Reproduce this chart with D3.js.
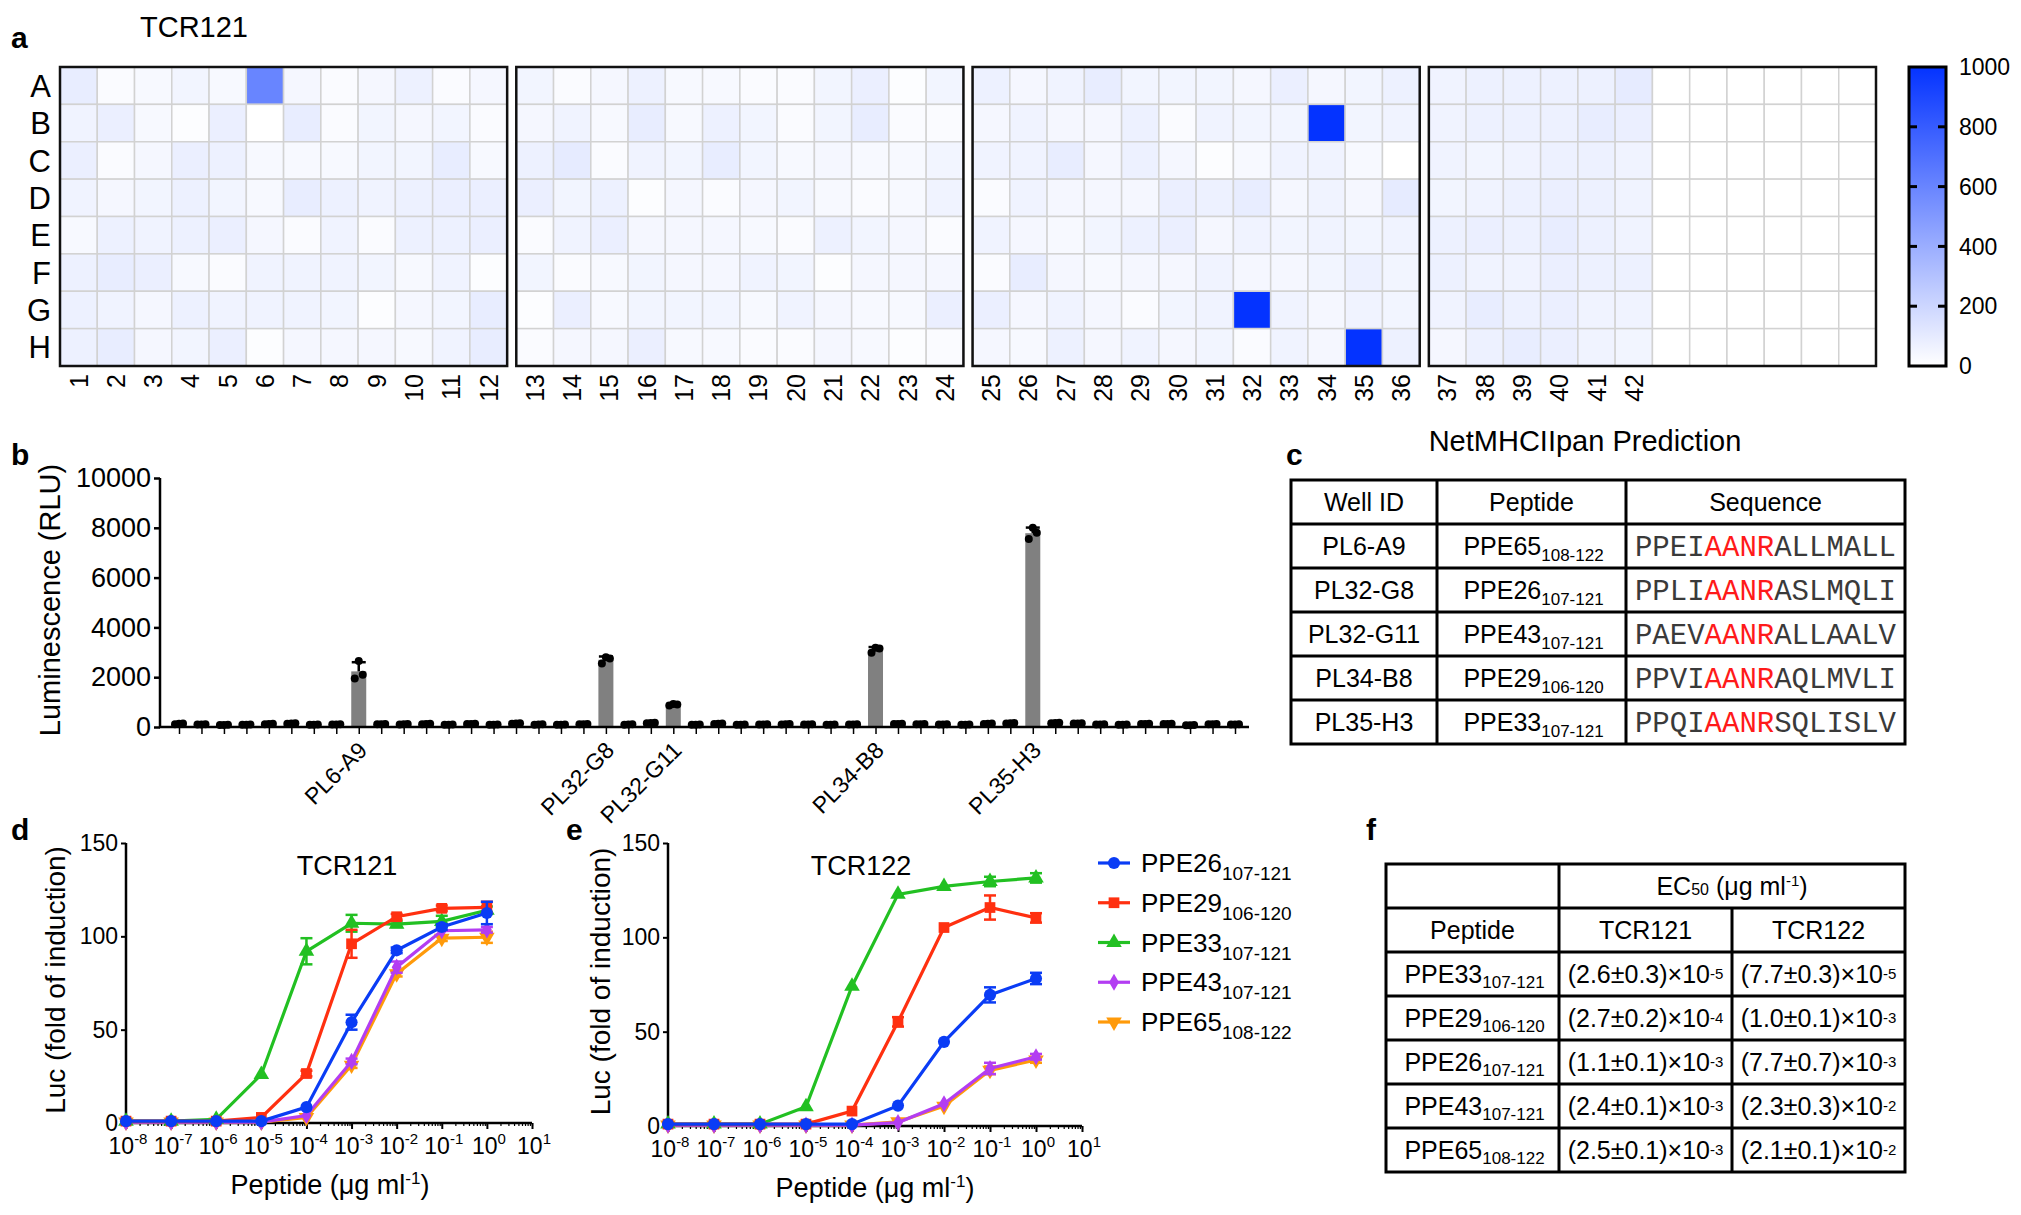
<!DOCTYPE html>
<html><head><meta charset="utf-8">
<script src="https://cdn.jsdelivr.net/npm/d3@7"></script>
<style>
body{margin:0;background:#fff;}
svg{display:block;}
</style></head><body>
<svg id="fig" width="2021" height="1215"></svg>
<script>
// ================= DATA =================
// Panel a: heatmap (rows A-H, plates/columns 1-42)
const rowLabels = ["A","B","C","D","E","F","G","H"];
const colLabels = ["1","2","3","4","5","6","7","8","9","10","11","12","13","14","15","16","17","18","19","20","21","22","23","24","25","26","27","28","29","30","31","32","33","34","35","36","37","38","39","40","41","42"];
const heatA = [90,20,30,50,30,600,40,20,40,70,20,40, 50,20,40,70,30,30,20,20,50,80,10,50, 70,40,60,90,50,50,50,40,80,40,50,70, 60,70,70,70,70,100];
const heatB = [60,80,30,10,80,0,90,20,50,40,50,20, 40,60,30,90,30,70,50,20,50,90,20,20, 40,60,40,40,70,20,60,50,50,1000,50,60, 60,70,70,70,90,80];
const heatC = [80,20,40,80,70,30,30,30,50,50,90,30, 70,100,20,60,50,90,50,30,40,30,30,50, 60,60,90,40,70,40,10,30,60,60,30,0, 60,50,60,70,70,60];
const heatD = [60,40,50,70,50,30,90,70,60,70,80,80, 80,50,70,10,40,20,40,50,30,20,30,60, 20,60,40,40,40,80,70,90,40,60,40,100, 50,60,70,80,70,60];
const heatE = [30,70,60,70,80,40,20,60,20,70,70,80, 20,60,80,40,40,40,30,20,70,50,40,20, 60,40,30,50,70,80,40,60,50,60,50,60, 70,80,70,90,70,60];
const heatF = [70,90,80,30,20,60,60,60,50,30,60,10, 50,20,30,50,40,40,60,50,10,40,40,40, 20,90,40,30,40,40,60,40,40,50,70,50, 70,60,60,80,70,70];
const heatG = [70,60,40,70,60,60,60,50,10,40,50,90, 10,80,30,50,50,50,30,60,40,30,30,80, 80,40,60,40,20,50,60,1000,60,40,60,50, 60,90,70,80,60,60];
const heatH = [70,90,40,50,80,10,40,40,40,30,60,90, 20,40,40,80,30,30,20,20,40,30,10,20, 40,30,70,40,60,40,50,20,60,40,1000,70, 40,70,90,80,60,50];
const colorbarTicks = [0,200,400,600,800,1000];

// Panel b: luminescence bars (48 wells, 3 replicates)
const barLabels = ["","","","","","","","","PL6-A9","","","","","","","","","","","PL32-G8","","","PL32-G11","","","","","","","","","PL34-B8","","","","","","","PL35-H3","","","","","","","","",""];
const barRep1 = [110,100,80,90,110,130,90,100,1950,110,100,110,90,120,90,130,90,90,110,2550,90,150,860,90,120,90,100,100,100,90,100,2980,120,110,100,90,120,140,7550,150,140,100,90,120,120,70,110,100];
const barRep2 = [140,110,90,100,130,150,100,110,2100,120,120,130,100,130,100,150,110,100,120,2750,110,170,900,100,140,100,110,120,110,100,110,3150,130,120,110,100,140,160,7800,170,150,110,100,130,130,80,120,110];
const barRep3 = [130,105,85,95,120,145,95,105,2650,115,110,120,95,125,95,140,100,95,115,2800,100,160,920,95,130,95,105,110,105,95,105,3180,125,115,105,95,130,150,8000,160,145,105,95,125,125,75,115,105];
const barTicks = [0,2000,4000,6000,8000,10000];

// Panels d, e: dose response
const conc = [1e-8,1e-7,1e-6,1e-5,1e-4,1e-3,1e-2,1e-1,1e0];
const xTickValues = [1e-8,1e-7,1e-6,1e-5,1e-4,1e-3,1e-2,1e-1,1e0,1e1];
const xTickExps = ["-8","-7","-6","-5","-4","-3","-2","-1","0","1"];
const yTicksLuc = [0,50,100,150];
const seriesNames = ["PPE26","PPE29","PPE33","PPE43","PPE65"];
const seriesSubs = ["107-121","106-120","107-121","107-121","108-122"];
// TCR121
const d26 = [1,1,1,1,8.5,54,92.5,105,112.5];      const d26e = [0.5,0.5,0.5,0.5,1,4,1.5,1.5,6];
const d29 = [1,1,1,3,26.5,96,110.5,115,115.5];    const d29e = [0.5,0.5,0.5,0.5,1.5,7.5,1.5,1.5,3];
const d33 = [1,1,2,26,92,107,106.5,108,114];      const d33e = [0.5,0.5,0.5,1,7,4.5,1.5,3,2];
const d43 = [0.5,0.5,0.5,0.5,4,33,83.5,103,103.5];const d43e = [0.3,0.3,0.3,0.3,1,1.5,3,1,1.5];
const d65 = [0.5,0.5,0.5,0.5,3,31,80,99,99.5];    const d65e = [0.3,0.3,0.3,0.3,1,1.5,1.5,1.5,3];
// TCR122
const e26 = [1,1,1,1,1,10.8,44.6,69.5,78.2];      const e26e = [0.5,0.5,0.5,0.5,0.5,1,1,4,3];
const e29 = [1,1,1,1,7.9,55.2,105.2,115.8,110.3]; const e29e = [0.5,0.5,0.5,0.5,1,2.5,1,6.4,2.5];
const e33 = [1,1,1,10.2,74.1,122.8,127,129.6,131.5]; const e33e = [0.5,0.5,0.5,0.5,1,1,1,2.5,2.5];
const e43 = [0.5,0.5,0.5,0.5,0.5,1.8,11.8,30.5,36.7]; const e43e = [0.3,0.3,0.3,0.3,0.3,1,1,3,1.5];
const e65 = [0.5,0.5,0.5,0.5,0.5,2.2,10.5,29.5,35];   const e65e = [0.3,0.3,0.3,0.3,0.3,1,1,2,1.5];

// Panel c table
const tcHeader = ["Well ID","Peptide","Sequence"];
const tcWells = ["PL6-A9","PL32-G8","PL32-G11","PL34-B8","PL35-H3"];
const tcPeptides = ["PPE65","PPE26","PPE43","PPE29","PPE33"];
const tcPeptideSubs = ["108-122","107-121","107-121","106-120","107-121"];
const tcSeqPre = ["PPEI","PPLI","PAEV","PPVI","PPQI"];
const tcSeqMotif = ["AANR","AANR","AANR","AANR","AANR"];
const tcSeqPost = ["ALLMALL","ASLMQLI","ALLAALV","AQLMVLI","SQLISLV"];

// Panel f table
const tfPeptides = ["PPE33","PPE29","PPE26","PPE43","PPE65"];
const tfPeptideSubs = ["107-121","106-120","107-121","107-121","108-122"];
const tf121 = ["(2.6±0.3)×10","(2.7±0.2)×10","(1.1±0.1)×10","(2.4±0.1)×10","(2.5±0.1)×10"];
const tf121Exp = ["-5","-4","-3","-3","-3"];
const tf122 = ["(7.7±0.3)×10","(1.0±0.1)×10","(7.7±0.7)×10","(2.3±0.3)×10","(2.1±0.1)×10"];
const tf122Exp = ["-5","-3","-3","-2","-2"];

// ================= DRAWING =================
const FONT = '"Liberation Sans", Arial, Helvetica, sans-serif';
const MONO = '"Liberation Mono", "Courier New", monospace';
const svg = d3.select("#fig").attr("font-family", FONT);
svg.append("rect").attr("width",2021).attr("height",1215).attr("fill","#fff");

function rich(g, x, y, parts, opts) {
  const t = g.append("text").attr("x", x).attr("y", y)
    .attr("text-anchor", opts.anchor || "middle").attr("font-size", opts.size)
    .attr("fill", opts.fill || "#000");
  if (opts.family) t.attr("font-family", opts.family);
  if (opts.transform) t.attr("transform", opts.transform);
  let shift = 0;
  parts.forEach(p => {
    const ts = t.append("tspan").text(p.t);
    const target = p.sub ? p.sub : (p.sup ? -p.sup : 0);
    const dy = target - shift;
    if (dy) ts.attr("dy", dy);
    shift = target;
    if (p.size) ts.attr("font-size", p.size);
    if (p.fill) ts.attr("fill", p.fill);
  });
  return t;
}
function panelLabel(txt, x, y) {
  svg.append("text").attr("x", x).attr("y", y).attr("font-size", 30)
    .attr("font-weight", "bold").text(txt);
}

// ---------- Panel a ----------
panelLabel("a", 11, 48);
svg.append("text").attr("x", 140).attr("y", 37).attr("font-size", 29).text("TCR121");
const heat = [heatA,heatB,heatC,heatD,heatE,heatF,heatG,heatH];
const blockScale = d3.scaleBand().domain([0,1,2,3]).range([60, 1876]).paddingInner(0.02);
const colInBlock = d3.scaleBand().domain(d3.range(12)).range([0, blockScale.bandwidth()]);
const rowScale = d3.scaleBand().domain(rowLabels).range([67, 366]);
const heatColor = d3.scaleLinear().domain([0,1000]).range(["#ffffff","#0433ff"]).clamp(true);
const cellX = c => blockScale(Math.floor(c / 12)) + colInBlock(c % 12);
const ga = svg.append("g");
rowLabels.forEach((r, ri) => {
  for (let c = 0; c < 48; c++) {
    const v = c < colLabels.length ? heat[ri][c] : null;
    ga.append("rect").attr("x", cellX(c)).attr("y", rowScale(r))
      .attr("width", colInBlock.bandwidth()).attr("height", rowScale.bandwidth())
      .attr("fill", v == null ? "#fff" : heatColor(v))
      .attr("stroke", "#d2d2d2").attr("stroke-width", 1.5);
  }
});
[0,1,2,3].forEach(b => {
  ga.append("rect").attr("x", blockScale(b)).attr("y", 67)
    .attr("width", blockScale.bandwidth()).attr("height", 299)
    .attr("fill", "none").attr("stroke", "#111").attr("stroke-width", 2.5);
});
rowLabels.forEach(r => {
  ga.append("text").attr("x", 51).attr("y", rowScale(r) + rowScale.bandwidth()/2)
    .attr("dy", "0.36em").attr("text-anchor", "end").attr("font-size", 31).text(r);
});
colLabels.forEach((lab, c) => {
  const cx = cellX(c) + colInBlock.bandwidth()/2;
  ga.append("text").attr("transform", `translate(${cx},374) rotate(-90)`)
    .attr("text-anchor", "end").attr("dy", "0.36em").attr("font-size", 25).text(lab);
});
// colorbar
const defs = svg.append("defs");
const grad = defs.append("linearGradient").attr("id", "cbgrad")
  .attr("x1", 0).attr("y1", 1).attr("x2", 0).attr("y2", 0);
grad.append("stop").attr("offset", "0%").attr("stop-color", heatColor(0));
grad.append("stop").attr("offset", "100%").attr("stop-color", heatColor(1000));
const cbY = d3.scaleLinear().domain([0,1000]).range([366, 67]);
const cbX0 = 1909, cbX1 = 1946;
ga.append("rect").attr("x", cbX0).attr("y", 67).attr("width", cbX1 - cbX0).attr("height", 299)
  .attr("fill", "url(#cbgrad)").attr("stroke", "#000").attr("stroke-width", 3);
colorbarTicks.forEach(t => {
  if (t > 0 && t < 1000) {
    ga.append("line").attr("x1", cbX0).attr("x2", cbX0 + 8).attr("y1", cbY(t)).attr("y2", cbY(t))
      .attr("stroke", "#000").attr("stroke-width", 3);
    ga.append("line").attr("x1", cbX1 - 8).attr("x2", cbX1).attr("y1", cbY(t)).attr("y2", cbY(t))
      .attr("stroke", "#000").attr("stroke-width", 3);
  }
  ga.append("text").attr("x", 1959).attr("y", cbY(t)).attr("dy", "0.36em")
    .attr("font-size", 23).text(t);
});

// ---------- Panel b ----------
panelLabel("b", 11, 465);
const gb = svg.append("g");
const bY = d3.scaleLinear().domain([0,10000]).range([727, 478]);
const bX = d3.scalePoint().domain(d3.range(barLabels.length)).range([179, 1235]);
const reps = barLabels.map((_, i) => [barRep1[i], barRep2[i], barRep3[i]]);
reps.forEach((r, i) => {
  const m = d3.mean(r), sd = d3.deviation(r);
  const cx = bX(i);
  gb.append("rect").attr("x", cx - 7.5).attr("y", bY(m)).attr("width", 15)
    .attr("height", bY(0) - bY(m)).attr("fill", "#808080");
  gb.append("line").attr("x1", cx).attr("x2", cx).attr("y1", bY(m)).attr("y2", bY(m + sd))
    .attr("stroke", "#000").attr("stroke-width", 2.5);
  gb.append("line").attr("x1", cx - 7).attr("x2", cx + 7).attr("y1", bY(m + sd)).attr("y2", bY(m + sd))
    .attr("stroke", "#000").attr("stroke-width", 2.5);
  [-4, 4, 0].forEach((off, k) => {
    gb.append("circle").attr("cx", cx + off).attr("cy", bY(r[k])).attr("r", 4).attr("fill", "#000");
  });
});
const bAxisY = gb.append("g").attr("transform", "translate(160,0)")
  .call(d3.axisLeft(bY).tickValues(barTicks).tickSize(6).tickPadding(3).tickFormat(d3.format("d")));
bAxisY.select(".domain").attr("stroke-width", 2.5).attr("d", "M0,478V727");
bAxisY.selectAll(".tick line").attr("stroke-width", 2.5);
bAxisY.selectAll("text").attr("font-size", 27).attr("font-family", FONT);
const bAxisX = gb.append("g").attr("transform", "translate(0,727)")
  .call(d3.axisBottom(bX).tickSize(7).tickFormat(""));
bAxisX.select(".domain").remove();
bAxisX.selectAll(".tick line").attr("stroke-width", 1.5);
gb.append("line").attr("x1", 159).attr("x2", 1249).attr("y1", 727).attr("y2", 727)
  .attr("stroke", "#000").attr("stroke-width", 2.5);
barLabels.forEach((lab, i) => {
  if (!lab) return;
  gb.append("text").attr("transform", `translate(${bX(i) + 4},746) rotate(-45)`)
    .attr("text-anchor", "end").attr("dy", "0.35em").attr("font-size", 23).text(lab);
});
gb.append("text").attr("transform", "translate(50,600) rotate(-90)").attr("text-anchor", "middle")
  .attr("dy", "0.36em").attr("font-size", 29).text("Luminescence (RLU)");

// ---------- Panels d, e ----------
const seriesColors = ["#0a3cf5","#ff3010","#22c022","#b33df2","#ff9a0a"];
const seriesSymbols = [d3.symbolCircle, d3.symbolSquare, d3.symbolTriangle, d3.symbolDiamond, d3.symbolTriangle];
const seriesSymSize = [115, 115, 105, 85, 105];
const seriesRot = [0,0,0,0,180];
const drawOrder = [4,3,2,1,0];
function marker(g, i, x, y) {
  g.append("path").attr("d", d3.symbol().type(seriesSymbols[i]).size(seriesSymSize[i])())
    .attr("transform", `translate(${x},${y}) rotate(${seriesRot[i]})`)
    .attr("fill", seriesColors[i]);
}
function doseChart(cfg) {
  const g = svg.append("g");
  const x = d3.scaleLog().domain([1e-8, 1e1]).range([cfg.x0, cfg.x1]);
  const y = d3.scaleLinear().domain([0, 150]).range([cfg.y0, cfg.y1]);
  const minor = g.append("g").attr("transform", `translate(0,${cfg.y0})`)
    .call(d3.axisBottom(x).tickValues(x.ticks(100)).tickSize(3).tickFormat(""));
  minor.select(".domain").remove();
  minor.selectAll(".tick line").attr("stroke-width", 1.2);
  const major = g.append("g").attr("transform", `translate(0,${cfg.y0})`)
    .call(d3.axisBottom(x).tickValues(xTickValues).tickSize(6).tickFormat(""));
  major.select(".domain").attr("stroke-width", 2.5).attr("d", `M${cfg.x0},0H${cfg.x1}`);
  major.selectAll(".tick line").attr("stroke-width", 2);
  xTickValues.forEach((v, k) => {
    rich(g, x(v) + 2, cfg.y0 + 31, [{t: "10"}, {t: xTickExps[k], sup: 10, size: 15}], {size: 23});
  });
  const ay = g.append("g").attr("transform", `translate(${cfg.x0},0)`)
    .call(d3.axisLeft(y).tickValues(yTicksLuc).tickSize(5).tickPadding(3));
  ay.select(".domain").attr("stroke-width", 2.5).attr("d", `M0,${cfg.y1}V${cfg.y0}`);
  ay.selectAll(".tick line").attr("stroke-width", 2);
  ay.selectAll("text").attr("font-size", 23).attr("font-family", FONT);
  g.append("text").attr("transform", `translate(${cfg.ytx},${(cfg.y0 + cfg.y1)/2 - 3}) rotate(-90)`)
    .attr("text-anchor", "middle").attr("dy", "0.36em").attr("font-size", 28).text("Luc (fold of induction)");
  rich(g, cfg.xtx, cfg.y0 + 71, [{t: "Peptide ("}, {t: "μ"}, {t: "g ml"}, {t: "-1", sup: 10, size: 17}, {t: ")"}], {size: 27});
  g.append("text").attr("x", cfg.tx).attr("y", cfg.y1 + 32).attr("text-anchor", "middle")
    .attr("font-size", 27).text(cfg.title);
  drawOrder.forEach(i => {
    const vals = cfg.vals[i], errs = cfg.errs[i];
    const line = d3.line().x((d, k) => x(conc[k])).y(d => y(d));
    g.append("path").attr("d", line(vals)).attr("fill", "none")
      .attr("stroke", seriesColors[i]).attr("stroke-width", 3.2);
    vals.forEach((v, k) => {
      const cx = x(conc[k]);
      const e = errs[k];
      if (e > 1.2) {
        g.append("line").attr("x1", cx).attr("x2", cx).attr("y1", y(v - e)).attr("y2", y(v + e))
          .attr("stroke", seriesColors[i]).attr("stroke-width", 2.5);
        [v - e, v + e].forEach(ev => g.append("line").attr("x1", cx - 6).attr("x2", cx + 6)
          .attr("y1", y(ev)).attr("y2", y(ev)).attr("stroke", seriesColors[i]).attr("stroke-width", 2.5));
      }
      marker(g, i, cx, y(v));
    });
  });
  return g;
}
panelLabel("d", 11, 840);
doseChart({x0: 126, x1: 532, y0: 1123, y1: 843, ytx: 55, xtx: 330, tx: 347, title: "TCR121",
  vals: [d26,d29,d33,d43,d65], errs: [d26e,d29e,d33e,d43e,d65e]});
panelLabel("e", 566, 840);
const ge = doseChart({x0: 668, x1: 1082, y0: 1126, y1: 843, ytx: 600, xtx: 875, tx: 861, title: "TCR122",
  vals: [e26,e29,e33,e43,e65], errs: [e26e,e29e,e33e,e43e,e65e]});
const legY = d3.scalePoint().domain(d3.range(seriesNames.length)).range([863, 1022]);
seriesNames.forEach((n, i) => {
  const yy = legY(i);
  ge.append("line").attr("x1", 1098).attr("x2", 1130).attr("y1", yy).attr("y2", yy)
    .attr("stroke", seriesColors[i]).attr("stroke-width", 3.2);
  marker(ge, i, 1114, yy);
  rich(ge, 1141, yy + 9, [{t: n}, {t: seriesSubs[i], sub: 8, size: 19}], {size: 26, anchor: "start"});
});

// ---------- Panel c ----------
panelLabel("c", 1286, 465);
const gc = svg.append("g");
gc.append("text").attr("x", 1585).attr("y", 451).attr("text-anchor", "middle").attr("font-size", 29)
  .text("NetMHCIIpan Prediction");
const tcX = [1291, 1437, 1626, 1905];
const tcY = d3.scaleBand().domain(d3.range(tcWells.length + 1)).range([480, 744]);
const tcRowC = r => tcY(r) + tcY.bandwidth()/2;
gc.append("rect").attr("x", tcX[0]).attr("y", 480).attr("width", tcX[3] - tcX[0]).attr("height", 264)
  .attr("fill", "none").attr("stroke", "#000").attr("stroke-width", 3);
tcX.slice(1, 3).forEach(xx => gc.append("line").attr("x1", xx).attr("x2", xx).attr("y1", 480).attr("y2", 744)
  .attr("stroke", "#000").attr("stroke-width", 3));
d3.range(1, tcWells.length + 1).forEach(r => gc.append("line").attr("x1", tcX[0]).attr("x2", tcX[3])
  .attr("y1", tcY(r)).attr("y2", tcY(r)).attr("stroke", "#000").attr("stroke-width", 3));
const tcColC = k => (tcX[k] + tcX[k + 1]) / 2;
tcHeader.forEach((h, k) => gc.append("text").attr("x", tcColC(k)).attr("y", tcRowC(0) + 9)
  .attr("text-anchor", "middle").attr("font-size", 25).text(h));
tcWells.forEach((w, i) => {
  const yy = tcRowC(i + 1) + 9;
  gc.append("text").attr("x", tcColC(0)).attr("y", yy).attr("text-anchor", "middle").attr("font-size", 25).text(w);
  rich(gc, tcColC(1) + 2, yy, [{t: tcPeptides[i]}, {t: tcPeptideSubs[i], sub: 6, size: 17}], {size: 25});
  rich(gc, tcColC(2), yy + 1, [{t: tcSeqPre[i]}, {t: tcSeqMotif[i], fill: "#ff1a1a"}, {t: tcSeqPost[i]}],
    {size: 29, family: MONO, fill: "#3a3a3a"});
});

// ---------- Panel f ----------
panelLabel("f", 1366, 840);
const gf = svg.append("g");
const tfX = [1386, 1559, 1732, 1905];
const tfY = d3.scaleBand().domain(d3.range(tfPeptides.length + 2)).range([864, 1172]);
const tfRowC = r => tfY(r) + tfY.bandwidth()/2;
const tfColC = k => (tfX[k] + tfX[k + 1]) / 2;
gf.append("rect").attr("x", tfX[0]).attr("y", 864).attr("width", tfX[3] - tfX[0]).attr("height", 308)
  .attr("fill", "none").attr("stroke", "#000").attr("stroke-width", 3);
gf.append("line").attr("x1", tfX[1]).attr("x2", tfX[1]).attr("y1", 864).attr("y2", 1172)
  .attr("stroke", "#000").attr("stroke-width", 3);
gf.append("line").attr("x1", tfX[2]).attr("x2", tfX[2]).attr("y1", tfY(1)).attr("y2", 1172)
  .attr("stroke", "#000").attr("stroke-width", 3);
d3.range(1, tfPeptides.length + 2).forEach(r => gf.append("line").attr("x1", tfX[0]).attr("x2", tfX[3])
  .attr("y1", tfY(r)).attr("y2", tfY(r)).attr("stroke", "#000").attr("stroke-width", 3));
rich(gf, (tfX[1] + tfX[3]) / 2, tfRowC(0) + 9,
  [{t: "EC"}, {t: "50", size: 16}, {t: " ("}, {t: "μ"}, {t: "g ml"}, {t: "-1", sup: 9, size: 15}, {t: ")"}], {size: 25});
["Peptide","TCR121","TCR122"].forEach((h, k) => gf.append("text").attr("x", tfColC(k)).attr("y", tfRowC(1) + 9)
  .attr("text-anchor", "middle").attr("font-size", 25).text(h));
tfPeptides.forEach((p, i) => {
  const yy = tfRowC(i + 2) + 9;
  rich(gf, tfColC(0) + 2, yy, [{t: p}, {t: tfPeptideSubs[i], sub: 5, size: 17}], {size: 25});
  rich(gf, tfColC(1), yy, [{t: tf121[i]}, {t: tf121Exp[i], sup: 4, size: 15}], {size: 25});
  rich(gf, tfColC(2), yy, [{t: tf122[i]}, {t: tf122Exp[i], sup: 4, size: 15}], {size: 25});
});
</script>
</body></html>
